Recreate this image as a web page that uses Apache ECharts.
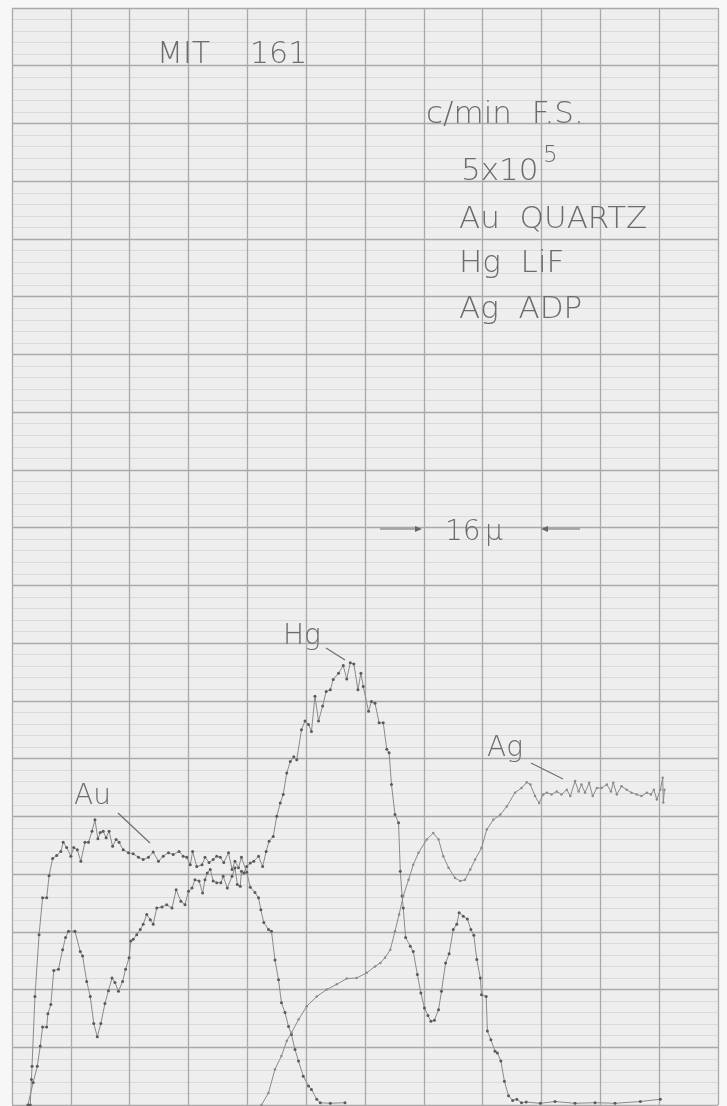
<!DOCTYPE html>
<html>
<head>
<meta charset="utf-8">
<script src="https://cdn.jsdelivr.net/npm/echarts@6/dist/echarts.min.js"></script>
<style>
html,body{margin:0;padding:0;background:#f7f7f7;}
#c{width:727px;height:1106px;}
</style>
</head>
<body>
<div id="c"></div>
<script>
// Values in chart-paper divisions (x: major vertical divisions, y: major horizontal divisions)
var auData = [[0.31,0],[0.33,0.44],[0.34,0.67],[0.39,1.88],[0.46,2.95],[0.52,3.59],[0.59,3.59],[0.63,3.97],[0.69,4.27],[0.76,4.32],[0.83,4.39],[0.87,4.55],[0.93,4.46],[1.00,4.31],[1.05,4.46],[1.11,4.42],[1.17,4.22],[1.24,4.55],[1.30,4.55],[1.36,4.74],[1.41,4.94],[1.46,4.61],[1.50,4.72],[1.55,4.74],[1.60,4.63],[1.65,4.74],[1.71,4.48],[1.77,4.60],[1.82,4.55],[1.89,4.42],[1.98,4.37],[2.06,4.35],[2.15,4.29],[2.23,4.25],[2.32,4.29],[2.40,4.38],[2.49,4.22],[2.57,4.31],[2.66,4.37],[2.74,4.34],[2.84,4.39],[2.91,4.31],[2.97,4.29],[3.03,4.16],[3.07,4.39],[3.14,4.13],[3.23,4.16],[3.28,4.29],[3.35,4.20],[3.42,4.25],[3.48,4.31],[3.54,4.29],[3.60,4.20],[3.68,4.37],[3.74,4.08],[3.79,4.22],[3.85,4.11],[3.90,4.29],[3.99,4.03],[4.05,3.77],[4.13,3.68],[4.19,3.59],[4.23,3.38],[4.28,3.16],[4.36,3.04],[4.41,3.01],[4.47,2.51],[4.53,2.17],[4.58,1.77],[4.64,1.60],[4.70,1.36],[4.75,1.22],[4.81,0.96],[4.87,0.76],[4.95,0.50],[5.04,0.33],[5.09,0.27],[5.18,0.10],[5.24,0.04],[5.41,0.03],[5.66,0.04]];

var hgData = [[0.27,0],[0.36,0.39],[0.43,0.67],[0.48,1.02],[0.52,1.35],[0.59,1.35],[0.61,1.58],[0.66,1.74],[0.71,2.33],[0.79,2.35],[0.86,2.69],[0.91,2.90],[0.96,3.01],[1.07,3.01],[1.16,2.66],[1.20,2.58],[1.27,2.14],[1.33,1.88],[1.39,1.41],[1.45,1.18],[1.51,1.41],[1.58,1.76],[1.64,1.98],[1.70,2.20],[1.75,2.12],[1.81,1.97],[1.88,2.14],[1.93,2.35],[1.99,2.55],[2.02,2.84],[2.06,2.87],[2.12,2.95],[2.18,3.04],[2.23,3.13],[2.29,3.30],[2.35,3.21],[2.40,3.13],[2.46,3.41],[2.55,3.43],[2.63,3.47],[2.72,3.41],[2.79,3.73],[2.87,3.53],[2.94,3.47],[3.00,3.70],[3.06,3.76],[3.11,3.90],[3.18,3.88],[3.24,3.67],[3.28,3.90],[3.32,4.02],[3.37,4.08],[3.42,3.88],[3.48,3.85],[3.55,3.85],[3.59,3.96],[3.66,3.76],[3.74,3.96],[3.79,4.11],[3.83,3.82],[3.88,3.79],[3.90,4.05],[3.94,4.02],[3.99,4.13],[4.05,4.19],[4.11,4.22],[4.19,4.31],[4.26,4.13],[4.32,4.39],[4.37,4.57],[4.44,4.65],[4.50,5.00],[4.56,5.23],[4.61,5.38],[4.67,5.75],[4.73,5.95],[4.79,6.03],[4.84,5.98],[4.92,6.50],[4.98,6.65],[5.04,6.59],[5.09,6.47],[5.15,7.08],[5.21,6.65],[5.28,6.91],[5.34,7.16],[5.41,7.19],[5.46,7.37],[5.55,7.48],[5.63,7.61],[5.69,7.38],[5.75,7.66],[5.81,7.64],[5.88,7.19],[5.93,7.48],[5.97,7.25],[6.06,6.82],[6.11,6.99],[6.17,6.96],[6.24,6.62],[6.31,6.62],[6.37,6.16],[6.41,6.10],[6.45,5.55],[6.51,5.03],[6.57,4.89],[6.60,4.05],[6.63,3.62],[6.65,3.41],[6.69,2.90],[6.77,2.75],[6.82,2.66],[6.89,2.26],[6.95,1.94],[7.01,1.68],[7.07,1.55],[7.12,1.45],[7.18,1.47],[7.25,1.65],[7.30,1.97],[7.37,2.46],[7.43,2.62],[7.50,3.04],[7.56,3.13],[7.60,3.33],[7.67,3.27],[7.74,3.22],[7.80,3.04],[7.85,2.94],[7.90,2.52],[7.96,2.20],[7.98,1.91],[8.06,1.88],[8.08,1.28],[8.14,1.13],[8.21,0.93],[8.25,0.90],[8.31,0.76],[8.37,0.41],[8.44,0.16],[8.51,0.08],[8.58,0.10],[8.66,0.04],[8.74,0.05],[8.98,0.03],[9.23,0.06],[9.57,0.03],[9.91,0.04],[10.25,0.03],[10.68,0.06],[11.02,0.10]];

var agData = [[4.24,0],[4.36,0.21],[4.47,0.62],[4.58,0.85],[4.67,1.11],[4.75,1.25],[4.87,1.48],[5.01,1.71],[5.18,1.88],[5.35,2.00],[5.52,2.09],[5.69,2.19],[5.86,2.20],[6.03,2.29],[6.17,2.40],[6.26,2.46],[6.34,2.55],[6.43,2.69],[6.51,3.01],[6.58,3.30],[6.65,3.62],[6.74,3.90],[6.82,4.16],[6.91,4.37],[7.05,4.60],[7.16,4.71],[7.25,4.60],[7.33,4.31],[7.42,4.11],[7.53,3.93],[7.62,3.88],[7.70,3.90],[7.79,4.08],[7.87,4.25],[7.98,4.45],[8.07,4.77],[8.18,4.94],[8.30,5.03],[8.41,5.17],[8.55,5.41],[8.66,5.49],[8.75,5.59],[8.81,5.55],[8.89,5.35],[8.96,5.23],[9.03,5.38],[9.09,5.41],[9.17,5.38],[9.26,5.43],[9.34,5.38],[9.43,5.46],[9.49,5.35],[9.57,5.61],[9.63,5.43],[9.68,5.55],[9.74,5.41],[9.81,5.58],[9.87,5.35],[9.94,5.49],[10.02,5.49],[10.11,5.55],[10.18,5.43],[10.22,5.58],[10.28,5.38],[10.36,5.52],[10.45,5.46],[10.53,5.41],[10.62,5.38],[10.70,5.35],[10.79,5.41],[10.86,5.38],[10.91,5.46],[10.96,5.29],[11.02,5.46],[11.06,5.67],[11.07,5.24],[11.09,5.46]];

var xDivisions = 12;
var yDivisions = 19;

var chart = echarts.init(document.getElementById('c'), null, {renderer:'canvas'});

var FONT = '"DejaVu Sans", "Open Sans", sans-serif';
var TXT = '#6c6c6c';

function txt(str, x, yBase, size){
  return {type:'text', x:x, y:yBase + Math.round(size*0.17), z:100,
    style:{text:str, fill:TXT, font:'200 '+size+'px '+FONT, verticalAlign:'bottom', align:'left'}};
}
function seg(x1,y1,x2,y2,w){
  return {type:'line', z:100, shape:{x1:x1,y1:y1,x2:x2,y2:y2}, style:{stroke:'#6e6e6e', lineWidth:w||1.2}};
}
function tri(pts){
  return {type:'polygon', z:100, shape:{points:pts}, style:{fill:'#666'}};
}

function lineSeries(name, data, symSize, col){
  return {
    name:name, type:'line', data:data, showSymbol:true, symbol:'circle', symbolSize:symSize,
    lineStyle:{color:'#8a8a8a', width:1},
    itemStyle:{color:col, borderWidth:0},
    animation:false, silent:true, z:10
  };
}

chart.setOption({
  animation:false,
  backgroundColor:'#f7f7f7',
  grid:{left:12, right:9, top:8, bottom:1, show:true, backgroundColor:'#eeeeee', borderWidth:0},
  xAxis:{type:'value', min:0, max:xDivisions, interval:1,
    axisLine:{show:false}, axisTick:{show:false}, axisLabel:{show:false},
    splitLine:{show:true, lineStyle:{color:'#a9a9a9', width:1.3}}},
  yAxis:{type:'value', min:0, max:yDivisions, interval:1,
    axisLine:{show:false}, axisTick:{show:false}, axisLabel:{show:false},
    splitLine:{show:true, lineStyle:{color:'#a9a9a9', width:1.3}},
    minorTick:{show:false, splitNumber:5},
    minorSplitLine:{show:true, lineStyle:{color:'#dadada', width:1}}},
  series:[
    lineSeries('Au', auData, 3, '#5a5a5a'),
    lineSeries('Hg', hgData, 3, '#5a5a5a'),
    lineSeries('Ag', agData, 2.5, '#8c8c8c')
  ],
  graphic:[
    txt('MIT', 157, 65, 30),
    txt('161', 250, 65, 30),
    txt('c/min  F.S.', 426, 125, 31),
    txt('5x10', 461, 182, 31),
    txt('5', 543, 164, 23),
    txt('Au  QUARTZ', 459, 230, 31),
    txt('Hg  LiF', 459, 274, 31),
    txt('Ag  ADP', 459, 320, 31),
    txt('16', 445, 542, 28),
    txt('\u00b5', 485, 542, 28),
    seg(380,529,417,529),
    tri([[415,526],[422,529],[415,532]]),
    seg(546,529,580,529),
    tri([[548,526],[541,529],[548,532]]),
    txt('Au', 74, 806, 28),
    seg(118,813,150,843),
    txt('Hg', 283, 646, 28),
    seg(326,648,345,660),
    txt('Ag', 487, 758, 28),
    seg(531,763,563,779)
  ]
});
</script>
</body>
</html>
